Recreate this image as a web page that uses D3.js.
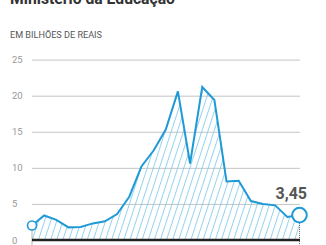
<!DOCTYPE html>
<html><head><meta charset="utf-8">
<script src="https://cdn.jsdelivr.net/npm/d3@7"></script>
<style>
html,body{margin:0;padding:0;background:#fff;}
svg{display:block;font-family:Roboto,"DejaVu Sans",sans-serif;}
</style></head>
<body><div id="chart"></div>
<script>
const title = "Ministério da Educação";
const subtitle = "EM BILHÕES DE REAIS";
const indices = d3.range(23);
const values = [2.0, 3.4, 2.8, 1.75, 1.8, 2.3, 2.6, 3.6, 6.0, 10.2, 12.4, 15.3, 20.6, 10.6, 21.2, 19.4, 8.1, 8.2, 5.4, 5.0, 4.8, 3.2, 3.45];
const yTicks = [0, 5, 10, 15, 20, 25];
const lastLabel = "3,45";

const W = 326, H = 245;
const svg = d3.select("#chart").append("svg").attr("width", W).attr("height", H);

const x = d3.scaleLinear().domain([0, 22]).range([32, 299.5]);
const y = d3.scaleLinear().domain([0, 25]).range([240, 59.6]);

const defs = svg.append("defs");
const pat = defs.append("pattern").attr("id", "hatch")
  .attr("patternUnits", "userSpaceOnUse")
  .attr("width", 5.8).attr("height", 10)
  .attr("patternTransform", "rotate(18)");
pat.append("line").attr("x1", 0.5).attr("y1", 0).attr("x2", 0.5).attr("y2", 10)
  .attr("stroke", "#7ac6ea").attr("stroke-width", 0.8);

// title & subtitle
svg.append("text").attr("x", 10).attr("y", 4)
  .attr("font-size", 17).attr("font-weight", "bold").attr("fill", "#333")
  .attr("textLength", 165).attr("lengthAdjust", "spacingAndGlyphs")
  .text(title);
svg.append("text").attr("x", 10).attr("y", 37.5)
  .attr("font-size", 8.5).attr("fill", "#555")
  .attr("textLength", 92).attr("lengthAdjust", "spacingAndGlyphs")
  .text(subtitle);

// gridlines and tick labels
const yAxis = d3.axisLeft(y).tickValues(yTicks).tickSize(-(300 - 32)).tickFormat(d => d);
const gy = svg.append("g").attr("transform", "translate(32,0)").call(yAxis);
gy.select(".domain").remove();
gy.selectAll(".tick line").attr("stroke", "#c4c4c4").attr("stroke-width", 1)
  .attr("display", d => d === 0 ? "none" : null);
gy.selectAll(".tick text").attr("x", -20).attr("text-anchor", "start")
  .attr("fill", "#999").attr("font-size", 9.5).attr("font-family", "Roboto, sans-serif");

// area with hatch
const area = d3.area().x(i => x(i)).y0(y(0)).y1(i => y(values[i]));
svg.append("path").datum(indices).attr("d", area).attr("fill", "url(#hatch)");

// dotted verticals
[0, 22].forEach(i => {
  svg.append("line").attr("x1", x(i)).attr("x2", x(i))
    .attr("y1", y(values[i])).attr("y2", 245)
    .attr("stroke", "#666").attr("stroke-width", 1).attr("stroke-dasharray", "1,1");
});

// zero axis
svg.append("line").attr("x1", 32).attr("x2", 300).attr("y1", y(0)).attr("y2", y(0))
  .attr("stroke", "#222").attr("stroke-width", 2.5);

// line
const line = d3.line().x(i => x(i)).y(i => y(values[i]));
svg.append("path").datum(indices).attr("d", line)
  .attr("fill", "none").attr("stroke", "#1f9ad6").attr("stroke-width", 2)
  .attr("stroke-linejoin", "miter");

// end circles
svg.append("circle").attr("cx", x(0)).attr("cy", y(values[0])).attr("r", 4.5)
  .attr("fill", "#fff").attr("stroke", "#1f9ad6").attr("stroke-width", 1.6);
svg.append("circle").attr("cx", x(22)).attr("cy", y(values[22])).attr("r", 7.3)
  .attr("fill", "#fff").attr("stroke", "#1f9ad6").attr("stroke-width", 2);

// label
svg.append("text").attr("x", 307).attr("y", 198.5).attr("text-anchor", "end")
  .attr("font-size", 16).attr("font-weight", "bold").attr("fill", "#555")
  .text(lastLabel);
</script></body></html>
